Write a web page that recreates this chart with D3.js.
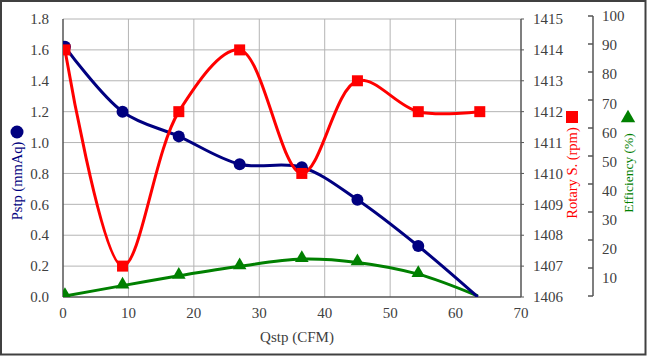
<!DOCTYPE html>
<html><head><meta charset="utf-8">
<script src="https://cdn.jsdelivr.net/npm/d3@7"></script>
<style>html,body{margin:0;padding:0;background:#fff;} svg{display:block;} text{font-family:"Liberation Serif","Times New Roman","DejaVu Serif",serif;}</style>
</head><body>
<script>
const qstp = [0.3, 9.1, 17.7, 27.0, 36.5, 45.0, 54.3, 63.4];
const pstp = [1.62, 1.20, 1.04, 0.86, 0.84, 0.63, 0.33, 0.0];
const rotaryX = [0.3, 9.1, 17.7, 27.0, 36.5, 45.0, 54.3, 63.7];
const rotary = [1414, 1407, 1412, 1414, 1410, 1413, 1412, 1412];
const efficiency = [0.0, 3.7, 7.2, 10.6, 13.2, 12.0, 7.8, 0.0];
const xTicks = [0, 10, 20, 30, 40, 50, 60, 70];
const pTicks = [0, 0.2, 0.4, 0.6, 0.8, 1.0, 1.2, 1.4, 1.6, 1.8];
const rTicks = [1406, 1407, 1408, 1409, 1410, 1411, 1412, 1413, 1414, 1415];
const eTicks = [0, 10, 20, 30, 40, 50, 60, 70, 80, 90, 100];
const eLabels = [10, 20, 30, 40, 50, 60, 70, 80, 90, 100];

const W = 647, H = 356;
const L = 63, R = 521, T = 19, B = 297;
const svg = d3.select("body").append("svg").attr("width", W).attr("height", H);

svg.append("rect").attr("x", 1).attr("y", 1).attr("width", W - 2.5).attr("height", H - 2.5)
  .attr("fill", "#fff").attr("stroke", "#404040").attr("stroke-width", 2);

const x = d3.scaleLinear().domain([0, 70]).range([L, R]);
const yP = d3.scaleLinear().domain([0, 1.8]).range([B, T]);
const yR = d3.scaleLinear().domain([1406, 1415]).range([B, T]);
const yE = d3.scaleLinear().domain([0, 100]).range([296, 16]);
const yEL = d3.scaleLinear().domain([0, 100]).range([307, 16]);

// grid
const g = svg.append("g");
g.selectAll(".vg").data(xTicks.slice(1, -1)).join("line")
  .attr("x1", d => x(d)).attr("x2", d => x(d)).attr("y1", T).attr("y2", B)
  .attr("stroke", "#b4b4b4").attr("stroke-width", 1);
g.selectAll(".hg").data(pTicks.slice(1)).join("line")
  .attr("x1", L).attr("x2", R).attr("y1", d => yP(d)).attr("y2", d => yP(d))
  .attr("stroke", "#b4b4b4").attr("stroke-width", 1);

// axes lines
svg.append("line").attr("x1", L).attr("x2", L).attr("y1", T).attr("y2", B).attr("stroke", "#555").attr("stroke-width", 1.5);
svg.append("line").attr("x1", L).attr("x2", R).attr("y1", B).attr("y2", B).attr("stroke", "#555").attr("stroke-width", 1.5);
svg.append("line").attr("x1", R).attr("x2", R).attr("y1", T).attr("y2", B).attr("stroke", "#555").attr("stroke-width", 1.5);
svg.selectAll(".rt").data(rTicks).join("line")
  .attr("x1", R).attr("x2", R + 3).attr("y1", d => yR(d)).attr("y2", d => yR(d))
  .attr("stroke", "#555").attr("stroke-width", 1);

// tick labels
const txt = (sel) => sel.attr("font-size", 15).attr("fill", "#404040");
svg.selectAll(".xl").data(xTicks).join("text").call(txt)
  .attr("x", d => x(d)).attr("y", 318).attr("text-anchor", "middle").text(d => d);
svg.selectAll(".pl").data(pTicks).join("text").call(txt)
  .attr("x", 49).attr("y", d => yP(d)).attr("dy", "0.35em").attr("text-anchor", "end").text(d => d.toFixed(1));
svg.selectAll(".rl").data(rTicks).join("text").call(txt)
  .attr("x", 533).attr("y", d => yR(d)).attr("dy", "0.35em").attr("text-anchor", "start").text(d => d);

// efficiency axis
const EX = 593;
svg.append("line").attr("x1", EX).attr("x2", EX).attr("y1", yE(100)).attr("y2", yE(0)).attr("stroke", "#555").attr("stroke-width", 1.5);
svg.selectAll(".et").data(eTicks).join("line")
  .attr("x1", EX - 5).attr("x2", EX).attr("y1", d => yE(d)).attr("y2", d => yE(d))
  .attr("stroke", "#555").attr("stroke-width", 1.5);
svg.selectAll(".el").data(eLabels).join("text").call(txt)
  .attr("x", 602).attr("y", d => yEL(d)).attr("dy", "0.35em").attr("text-anchor", "start").text(d => d);

// titles
svg.append("text").call(txt).attr("x", 297).attr("y", 342).attr("text-anchor", "middle").text("Qstp (CFM)");
svg.append("text").attr("font-size", 14.5).attr("fill", "#000080")
  .attr("transform", "translate(22,181) rotate(-90)").attr("text-anchor", "middle").text("Pstp (mmAq)");
svg.append("circle").attr("cx", 17).attr("cy", 132).attr("r", 6.5).attr("fill", "#000080");
svg.append("text").attr("font-size", 14.5).attr("fill", "#ff0000")
  .attr("transform", "translate(577,173) rotate(-90)").attr("text-anchor", "middle").text("Rotary S. (rpm)");
svg.append("rect").attr("x", 566).attr("y", 111).attr("width", 12).attr("height", 12).attr("fill", "#ff0000");
svg.append("text").attr("font-size", 13.5).attr("fill", "#008000")
  .attr("transform", "translate(633,173) rotate(-90)").attr("text-anchor", "middle").text("Efficiency (%)");
svg.append("path").attr("d", d3.symbol(d3.symbolTriangle, 90)()).attr("transform", "translate(628,118)").attr("fill", "#008000");

// clip
svg.append("clipPath").attr("id", "clip").append("rect").attr("x", L).attr("y", T - 10).attr("width", R - L + 10).attr("height", B - T + 10);
const plot = svg.append("g").attr("clip-path", "url(#clip)");
const curve = d3.curveCatmullRom.alpha(0.5);

const effPts = qstp.map((q, i) => [x(q), yE(efficiency[i])]);
const pPts = qstp.map((q, i) => [x(q), yP(pstp[i])]);
const rPts = rotaryX.map((q, i) => [x(q), yR(rotary[i])]);

plot.append("path").attr("d", d3.line().curve(curve)(effPts)).attr("fill", "none").attr("stroke", "#008000").attr("stroke-width", 3);
plot.append("path").attr("d", d3.line().curve(curve)(pPts)).attr("fill", "none").attr("stroke", "#000080").attr("stroke-width", 3);
plot.append("path").attr("d", d3.line().curve(curve)(rPts)).attr("fill", "none").attr("stroke", "#ff0000").attr("stroke-width", 3);

plot.selectAll(".em").data(effPts.slice(0, -1)).join("path")
  .attr("d", d3.symbol(d3.symbolTriangle, 80)()).attr("transform", d => `translate(${d[0]},${d[1] - 1})`).attr("fill", "#008000");
plot.selectAll(".pm").data(pPts.slice(0, -1)).join("circle")
  .attr("cx", d => d[0]).attr("cy", d => d[1]).attr("r", 6).attr("fill", "#000080");
plot.selectAll(".rm").data(rPts).join("rect")
  .attr("x", d => d[0] - 5.5).attr("y", d => d[1] - 5.5).attr("width", 11).attr("height", 11).attr("fill", "#ff0000");
</script>
</body></html>
